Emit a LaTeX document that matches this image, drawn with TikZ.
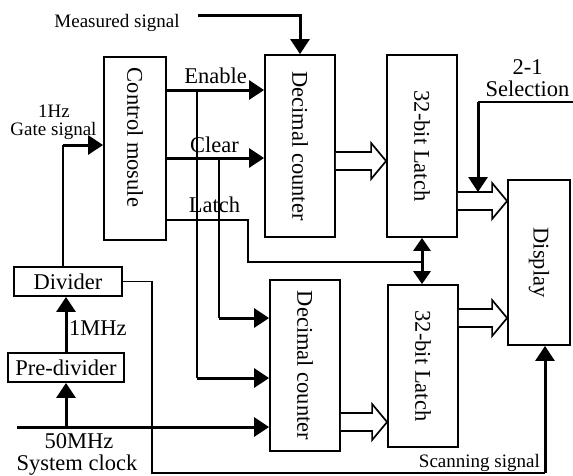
\documentclass[tikz,border=0pt]{standalone}
\usepackage{fontspec}
\setmainfont{Liberation Serif}
\usetikzlibrary{calc,arrows.meta}

\tikzset{
  blk/.style={draw, line width=1.8pt, inner sep=0pt},
  wire/.style={line width=1.7pt},
  sig/.style={line width=3pt, -{Triangle[length=15pt,width=19pt]}},
  dsig/.style={line width=3pt, {Triangle[length=13pt,width=17pt]}-{Triangle[length=13pt,width=17pt]}},
  bus/.style={draw, line width=1.7pt, fill=white},
  lbl/.style={inner sep=0pt, anchor=base},
  small/.style={lbl, font=\fontsize{19}{20}\selectfont},
}
% hollow bus arrow from #1 to #2
\newcommand{\busarrow}[2]{%
  \draw[bus] ($(#1)+(0,-9)$) -- ($(#2)+(-15,-9)$) -- ($(#2)+(-15,-18)$) -- (#2)
    -- ($(#2)+(-15,18)$) -- ($(#2)+(-15,9)$) -- ($(#1)+(0,9)$);}

\begin{document}
\begin{tikzpicture}[x=1pt,y=-1pt,font=\fontsize{22.5}{24}\selectfont]
\useasboundingbox (0,0) rectangle (573,475);

% Blocks
\node[blk, minimum width=62pt, minimum height=183pt] (ctrl) at (135,148.5) {\rotatebox{-90}{Control mosule\hspace{22pt}}};
\node[blk, minimum width=70pt, minimum height=182pt] (cnt1) at (300,146) {\rotatebox{-90}{Decimal counter}};
\node[blk, minimum width=70pt, minimum height=182pt] (lat1) at (422,146) {\rotatebox{-90}{32-bit Latch}};
\node[blk, minimum width=62pt, minimum height=165pt] (disp) at (539,262.5) {\rotatebox{-90}{Display}};
\node[blk, minimum width=70pt, minimum height=171pt] (cnt2) at (305,365.5) {\rotatebox{-90}{Decimal counter}};
\node[blk, minimum width=70pt, minimum height=162pt] (lat2) at (423,366) {\rotatebox{-90}{32-bit Latch}};
\node[blk, minimum width=108pt, minimum height=29pt] (div) at (68,281.5) {Divider};
\node[blk, minimum width=116pt, minimum height=29pt] (pre) at (66,367.5) {Pre-divider};

% Measured signal
\node[small] (msl) at (117,27) {Measured signal};
\coordinate (ms) at (198,15);
\draw[sig] (ms) -| (cnt1.north);

% Control outputs
\coordinate (en) at (166,90);
\coordinate (cl) at (166,158);
\coordinate (la) at (166,220);
\draw[sig] (en) -- (en -| cnt1.west);
\draw[sig] (cl) -- (cl -| cnt1.west);
\node[lbl] (enl) at (215.5,83) {Enable};
\node[lbl] (cll) at (214.5,152) {Clear};
\node[lbl] (lal) at (214.5,212) {Latch};

% Branches to lower counter
\coordinate (enb) at (197,378);
\coordinate (clb) at (219,318);
\draw[wire] (en -| enb) -- (enb);
\draw[sig] (enb) -- (enb -| cnt2.west);
\draw[wire] (cl -| clb) -- (clb);
\draw[sig] (clb) -- (clb -| cnt2.west);

% Latch line
\coordinate (lab) at (248,262);
\draw[wire] (la) -| (lab) -- (lab -| lat1.south);
\draw[dsig] (lat1.south) -- (lat1.south |- lat2.north);

% Gate signal
\coordinate (gt) at (63,145);
\draw[wire] (gt |- div.north) -- (gt);
\draw[sig] (gt) -- (gt -| ctrl.west);
\node[small] (hz) at (54,117.5) {1Hz};
\node[small] (gtl) at (53.5,135) {Gate signal};

% Clock
\coordinate (clk) at (17,427);
\draw[sig] (clk) -- (clk -| cnt2.west);
\draw[sig] (pre.south |- clk) -- (pre.south);
\draw[sig] (pre.north) -- (pre.north |- div.south);
\node[lbl, anchor=base west] (mhz) at (69,335) {1MHz};
\node[lbl] (clkl) at (79,448) {50MHz};
\node[lbl] (sysl) at (77,470) {System clock};

% Scanning signal
\coordinate (scl) at (152,473);
\coordinate (sc) at (545,473);
\draw[wire] (div.east) -| (scl) -- (sc);
\draw[sig] (sc) -- (sc |- disp.south);
\node[small, anchor=base east] (scn) at (540,467) {Scanning signal};

% 2-1 selection
\coordinate (selr) at (573,102);
\coordinate (sel) at (478,102);
\coordinate (seld) at (478,192);
\draw[wire] (selr) -- (sel);
\draw[sig] (sel) -- (seld);
\node[lbl] (s21) at (527.5,74.5) {2-1};
\node[lbl] (sell) at (527.5,96) {Selection};

% Bus arrows
\path (cnt1.east) ++(0,15) coordinate (b1);
\path (lat1.east) ++(0,55) coordinate (b2);
\path (lat2.east) ++(0,-48) coordinate (b3);
\path (cnt2.east) ++(0,56.5) coordinate (b4);
\busarrow{b1}{b1 -| lat1.west}
\busarrow{b2}{b2 -| disp.west}
\busarrow{b3}{b3 -| disp.west}
\busarrow{b4}{b4 -| lat2.west}

\end{tikzpicture}
\end{document}
